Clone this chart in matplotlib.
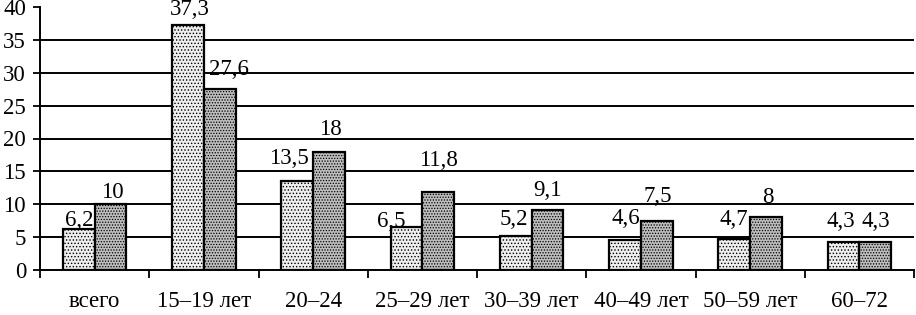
import numpy as np
import matplotlib.pyplot as plt

plt.rcParams['font.family'] = ['Liberation Serif', 'DejaVu Serif']
plt.rcParams['hatch.linewidth'] = 0.6

categories = ['всего', '15–19 лет', '20–24', '25–29 лет', '30–39 лет',
              '40–49 лет', '50–59 лет', '60–72']
series1 = [6.2, 37.3, 13.5, 6.5, 5.2, 4.6, 4.7, 4.3]
series2 = [10, 27.6, 18, 11.8, 9.1, 7.5, 8, 4.3]
yticks = [0, 5, 10, 15, 20, 25, 30, 35, 40]

# label offsets (pixels) from top of bar, roughly like the original
off1 = [(0, 9), (2, 15), (-8, 23), (-15, 6), (-2, 16), (1, 21), (0, 20), (-3, 20)]
off2 = [(2, 12), (9, 19), (1, 22), (0, 32), (0, 20), (1, 24), (2, 20), (1, 20)]

fig = plt.figure(figsize=(9.16, 3.15), dpi=100)
ax = fig.add_axes([40/916, 45/315, 874/916, 263/315])

x = np.arange(len(categories))
w = 0.29
fs = 16.5

b1 = ax.bar(x - w/2, series1, w, facecolor='#eeeeee', edgecolor='black',
            linewidth=1.6, hatch='.....', zorder=3)
b2 = ax.bar(x + w/2, series2, w, facecolor='#bdbdbd', edgecolor='black',
            linewidth=1.6, hatch='......', zorder=3)

for v in yticks[1:-1]:
    ax.axhline(v, color='black', lw=1.4, zorder=1)

def fmt(v):
    return ('%g' % v).replace('.', ',')

for bars, vals, offs in [(b1, series1, off1), (b2, series2, off2)]:
    for r, v, (dx, dy) in zip(bars, vals, offs):
        ax.annotate(fmt(v), (r.get_x() + r.get_width()/2, v), xytext=(dx, dy),
                    textcoords='offset pixels', ha='center', va='center',
                    fontsize=fs, zorder=4, annotation_clip=False)

ax.set_xlim(-0.5, len(categories) - 0.5)
ax.set_ylim(0, 40)
ax.set_yticks(yticks)
ax.set_yticklabels([str(t) for t in yticks], fontsize=fs)
ax.set_xticks(x)
ax.set_xticklabels(categories, fontsize=fs)
ax.set_xticks(np.arange(len(categories) + 1) - 0.5, minor=True)
ax.tick_params(axis='x', which='major', length=0, pad=15)
ax.tick_params(axis='x', which='minor', length=6, width=1.3, direction='out')
ax.tick_params(axis='y', length=5, width=1.3, direction='out', pad=5)

for s in ['top', 'right']:
    ax.spines[s].set_visible(False)
ax.spines['left'].set_linewidth(1.4)
ax.spines['bottom'].set_linewidth(1.4)

plt.savefig('out.png', dpi=100)
